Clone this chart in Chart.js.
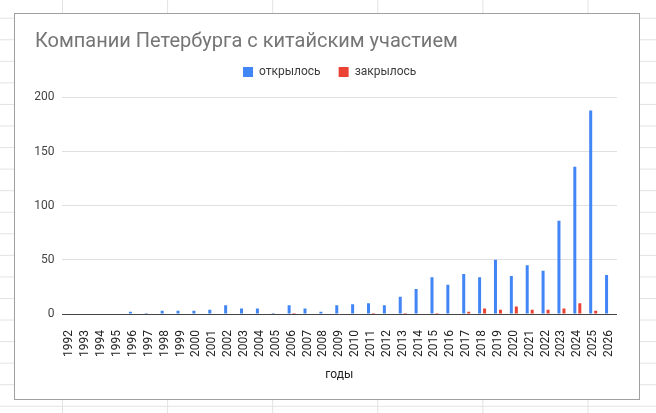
<!DOCTYPE html>
<html><head><meta charset="utf-8">
<script src="https://cdn.jsdelivr.net/npm/chart.js@4.4.1/dist/chart.umd.min.js"></script>
<style>
html,body{margin:0;padding:0;}
body{width:656px;height:413px;overflow:hidden;position:relative;background-color:#fff;
background-image:linear-gradient(to right,#e2e2e2 1px,transparent 1px),linear-gradient(to bottom,#e2e2e2 1px,transparent 1px);
background-size:105.1px 21.57px;background-position:62px 17.7px;}
#frame{position:absolute;left:14px;top:13px;width:624px;height:385px;border:1px solid #a0a0a0;background:#fff;}
#wrap{position:absolute;left:0;top:0;width:656px;height:413px;}
</style></head><body>
<div id="frame"></div>
<div id="wrap"><canvas id="c"></canvas></div>
<script>
const chartTitle = 'Компании Петербурга с китайским участием';
const xAxisTitle = 'годы';
const seriesNames = ['открылось', 'закрылось'];
const years = ['1992','1993','1994','1995','1996','1997','1998','1999','2000','2001','2002','2003','2004','2005','2006','2007','2008','2009','2010','2011','2012','2013','2014','2015','2016','2017','2018','2019','2020','2021','2022','2023','2024','2025','2026'];
const opened = [0,0,0,0,2,1,3,3,3,4,8,5,5,1,8,5,2,8,9,10,8,16,23,34,27,37,34,50,35,45,40,86,136,188,36];
const closed = [0,0,0,0,0,0,0,0,0,0,0,0,0,0,1,0,0,0,0,1,0,1,0,1,0,2,5,4,7,4,4,5,10,3,0];
const yTicks = [0, 50, 100, 150, 200];

Chart.defaults.font.family = 'Roboto';

const layoutTweak = {
  id: 'layoutTweak',
  beforeLayout(chart) {
    const lg = chart.legend;
    if (lg && !lg._gapPatched) {
      const fit = lg.fit;
      lg.fit = function () { fit.call(this); this.height += 9.4; };
      lg._gapPatched = true;
    }
  },
  afterLayout(chart) {
    const lg = chart.legend;
    if (lg) { lg.left += 3.7; lg.right += 3.7; }
  }
};

new Chart(document.getElementById('c'), {
  type: 'bar',
  data: {
    labels: years,
    datasets: [
      { label: seriesNames[0], data: opened, backgroundColor: '#4285f4', borderWidth: 0, barPercentage: 0.6, categoryPercentage: 0.63 },
      { label: seriesNames[1], data: closed, backgroundColor: '#ea4335', borderWidth: 0, barPercentage: 0.6, categoryPercentage: 0.63 }
    ]
  },
  options: {
    responsive: true,
    maintainAspectRatio: false,
    animation: false,
    layout: { padding: { left: 35, right: 39, top: 0, bottom: 0 } },
    plugins: {
      tooltip: { enabled: false },
      title: {
        display: true, text: chartTitle, align: 'start', color: '#757575',
        font: { size: 20, weight: 'normal', lineHeight: 0.6 },
        padding: { top: 36, bottom: 0 }
      },
      legend: {
        display: true, position: 'top', align: 'center',
        labels: { boxWidth: 10, boxHeight: 10, padding: 18, color: '#3c3c3c', font: { size: 12 } }
      }
    },
    scales: {
      x: {
        grid: { display: false },
        border: { display: false },
        ticks: { autoSkip: false, minRotation: 90, maxRotation: 90, padding: 8, color: '#222', font: { size: 12 } },
        title: { display: true, text: xAxisTitle, color: '#222', font: { size: 12 }, padding: { top: 0, bottom: 30.8 } },
        afterFit(s) { s.height = 99; }
      },
      y: {
        min: yTicks[0], max: yTicks[yTicks.length - 1],
        afterBuildTicks(s) { s.ticks = yTicks.map(v => ({ value: v })); },
        ticks: { padding: 7, color: '#444', font: { size: 12 } },
        grid: { drawTicks: false, color: ctx => (ctx.tick && ctx.tick.value === 0) ? '#444' : '#e0e0e0' },
        border: { display: false },
        afterFit(s) { s.width = 26.5; }
      }
    }
  },
  plugins: [layoutTweak]
});
</script>
</body></html>
